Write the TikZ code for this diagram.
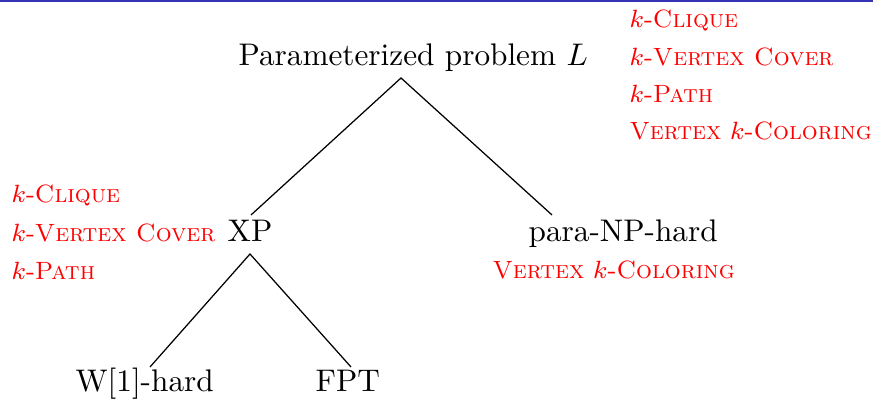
\documentclass[tikz,border=0pt]{standalone}
\definecolor{barblue}{RGB}{51,51,179}
\tikzset{
  lbl/.style={inner sep=0pt, anchor=base west},
  prob/.style={lbl, text=red, font=\footnotesize},
  edge/.style={draw=black, line width=0.4pt}
}
\begin{document}
\begin{tikzpicture}[x=0.32pt,y=-0.32pt]
\useasboundingbox (0,0) rectangle (873,400);
% thin rule along the top edge
\fill[barblue] (0,0) rectangle (873,1.6);

% tree labels
\node[lbl] (root) at (238,66) {Parameterized problem $L$};
\node[lbl] (xp) at (227,242) {XP};
\node[lbl] (pnp) at (528,242) {para-NP-hard};
\node[lbl] (w1) at (75,392) {W[1]-hard};
\node[lbl] (fpt) at (315,392) {FPT};

% problems attached to each class
\node[prob] (r1) at (629,28) {$k$-\textsc{Clique}};
\node[prob] (r2) at (629,66) {$k$-\textsc{Vertex Cover}};
\node[prob] (r3) at (629,103) {$k$-\textsc{Path}};
\node[prob] (r4) at (629,140) {\textsc{Vertex} $k$-\textsc{Coloring}};

\node[prob] (l1) at (11,203) {$k$-\textsc{Clique}};
\node[prob] (l2) at (11,242) {$k$-\textsc{Vertex Cover}};
\node[prob] (l3) at (11,280) {$k$-\textsc{Path}};

\node[prob] (p1) at (492,279) {\textsc{Vertex} $k$-\textsc{Coloring}};

% edge end points
\coordinate (root-s) at (401,78);
\coordinate (xp-n) at (251,215);
\coordinate (xp-s) at (250,254);
\coordinate (pnp-n) at (552,215);
\coordinate (w1-n) at (150,367);
\coordinate (fpt-n) at (351,367);

\draw[edge] (xp-n) -- (root-s) -- (pnp-n);
\draw[edge] (w1-n) -- (xp-s) -- (fpt-n);
\end{tikzpicture}
\end{document}
